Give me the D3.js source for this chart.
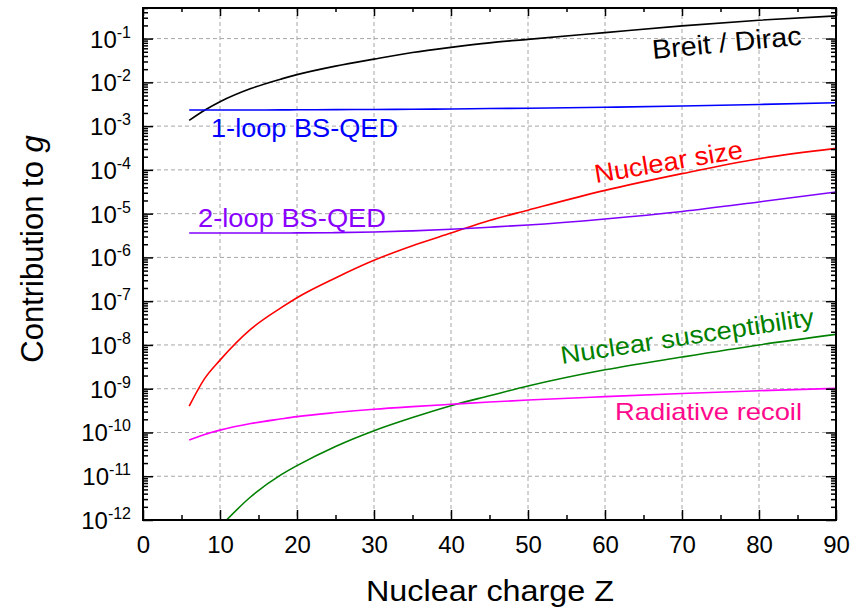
<!DOCTYPE html>
<html>
<head>
<meta charset="utf-8">
<script src="https://cdn.jsdelivr.net/npm/d3@7"></script>
<style>
  body { margin: 0; background: #fff; }
  text { font-family: "Liberation Sans", Arial, sans-serif; }
</style>
</head>
<body>
<div id="chart"></div>
<script>
var width = 864,
    height = 610;

var zValues = [6, 8, 10, 14, 18, 20, 25, 30, 35, 40, 45, 50, 60, 70, 80, 90];

var breitDirac   = [1.35e-3, 2.3e-3, 3.6e-3, 7.2e-3, 1.2e-2, 1.5e-2, 2.35e-2, 3.4e-2, 4.8e-2, 6.3e-2, 8.0e-2, 9.6e-2, 0.137, 0.195, 0.263, 0.33];
var oneLoop      = [2.33e-3, 2.33e-3, 2.33e-3, 2.34e-3, 2.35e-3, 2.36e-3, 2.38e-3, 2.4e-3, 2.43e-3, 2.47e-3, 2.52e-3, 2.57e-3, 2.7e-3, 2.88e-3, 3.12e-3, 3.42e-3];
var nuclearSize  = [4.0e-10, 1.7e-9, 4.5e-9, 2.3e-8, 7.2e-8, 1.2e-7, 3.4e-7, 8.6e-7, 1.85e-6, 3.6e-6, 7.0e-6, 1.2e-5, 3.4e-5, 8.2e-5, 1.8e-4, 3.1e-4];
var twoLoop      = [3.6e-6, 3.6e-6, 3.6e-6, 3.6e-6, 3.62e-6, 3.63e-6, 3.68e-6, 3.8e-6, 4.05e-6, 4.4e-6, 4.9e-6, 5.5e-6, 7.55e-6, 1.12e-5, 1.85e-5, 3.13e-5];
var susceptibility = [null, null, 7e-13, 3.4e-12, 1.1e-11, 1.75e-11, 4.8e-11, 1.1e-10, 2.2e-10, 4.1e-10, 6.9e-10, 1.15e-9, 2.7e-9, 5.3e-9, 1.0e-8, 1.74e-8];
var radRecoil    = [6.7e-11, 9e-11, 1.13e-10, 1.6e-10, 2.05e-10, 2.3e-10, 2.85e-10, 3.4e-10, 3.9e-10, 4.4e-10, 4.95e-10, 5.5e-10, 6.6e-10, 7.8e-10, 9.0e-10, 1.02e-9];

var xTicks = [0, 10, 20, 30, 40, 50, 60, 70, 80, 90];
var xMinor = [5, 15, 25, 35, 45, 55, 65, 75, 85];
var exponents = [-12, -11, -10, -9, -8, -7, -6, -5, -4, -3, -2, -1];

var series = [
  {name: "Breit / Dirac", values: breitDirac, color: "#000000"},
  {name: "1-loop BS-QED", values: oneLoop, color: "#0000ff"},
  {name: "Nuclear size", values: nuclearSize, color: "#ff0000"},
  {name: "2-loop BS-QED", values: twoLoop, color: "#8000ff"},
  {name: "Nuclear susceptibility", values: susceptibility, color: "#008000"},
  {name: "Radiative recoil", values: radRecoil, color: "#ff00ff"}
];

// curve labels: placement on the page
var labels = [
  {text: "Breit / Dirac", x: 653, y: 59, rot: -5.5, size: 27, len: 150, color: "#000000"},
  {text: "1-loop BS-QED", x: 211, y: 137, rot: 0, size: 26, len: 187, color: "#0000ff"},
  {text: "Nuclear size", x: 596, y: 183, rot: -9.6, size: 26, len: 150, color: "#ff0000"},
  {text: "2-loop BS-QED", x: 198, y: 227, rot: 0, size: 26, len: 188, color: "#8a00ff"},
  {text: "Nuclear susceptibility", x: 562, y: 364, rot: -8.7, size: 25, len: 256, color: "#008000"},
  {text: "Radiative recoil", x: 615, y: 420, rot: 0, size: 24, len: 187, color: "#ff0a8c"}
];

var plotL = 143, plotR = 836, plotT = 8, plotB = 520;

var x = d3.scaleLinear().domain([0, 90]).range([plotL, plotR]);
var y = d3.scaleLog().domain([1e-12, 0.5]).range([plotB, plotT]);

var decades = exponents.map(function(e) { return Math.pow(10, e); });
var yMinor = [];
exponents.forEach(function(e) {
  for (var k = 2; k <= 9; k++) {
    var v = k * Math.pow(10, e);
    if (v <= 0.5) yMinor.push(v);
  }
});

var svg = d3.select("#chart").append("svg")
    .attr("width", width)
    .attr("height", height);

svg.append("rect").attr("width", width).attr("height", height).attr("fill", "#fff");

svg.append("defs").append("clipPath").attr("id", "plot")
  .append("rect")
    .attr("x", plotL).attr("y", plotT)
    .attr("width", plotR - plotL).attr("height", plotB - plotT);

// grid
var grid = svg.append("g")
    .attr("stroke", "#a6a6a6")
    .attr("stroke-width", 1)
    .attr("stroke-dasharray", "4,3");

grid.selectAll("line.v")
    .data(xTicks.slice(1, -1))
  .enter().append("line")
    .attr("x1", function(d) { return x(d); })
    .attr("x2", function(d) { return x(d); })
    .attr("y1", plotT).attr("y2", plotB);

grid.selectAll("line.h")
    .data(decades.slice(1))
  .enter().append("line")
    .attr("x1", plotL).attr("x2", plotR)
    .attr("y1", function(d) { return y(d); })
    .attr("y2", function(d) { return y(d); });

// curves
var line = d3.line()
    .defined(function(d) { return d.v != null; })
    .x(function(d) { return x(d.z); })
    .y(function(d) { return y(d.v); })
    .curve(d3.curveMonotoneX);

svg.append("g").attr("clip-path", "url(#plot)")
  .selectAll("path")
    .data(series)
  .enter().append("path")
    .attr("fill", "none")
    .attr("stroke", function(d) { return d.color; })
    .attr("stroke-width", 1.6)
    .attr("d", function(d) {
      return line(zValues.map(function(z, i) { return {z: z, v: d.values[i]}; }));
    });

// ticks on all four sides, pointing inward
function ticks(axis, tx, ty) {
  var g = svg.append("g")
      .attr("transform", "translate(" + tx + "," + ty + ")")
      .call(axis);
  g.select(".domain").remove();
  g.selectAll("line").attr("stroke", "#000").attr("stroke-width", 1.5);
  return g;
}

ticks(d3.axisLeft(y).tickValues(decades).tickSize(-10).tickFormat(""), plotL, 0);
ticks(d3.axisLeft(y).tickValues(yMinor).tickSize(-5).tickFormat(""), plotL, 0);
ticks(d3.axisRight(y).tickValues(decades).tickSize(-10).tickFormat(""), plotR, 0);
ticks(d3.axisRight(y).tickValues(yMinor).tickSize(-5).tickFormat(""), plotR, 0);
ticks(d3.axisTop(x).tickValues(xTicks).tickSize(-8).tickFormat(""), 0, plotT);
ticks(d3.axisTop(x).tickValues(xMinor).tickSize(-4).tickFormat(""), 0, plotT);
ticks(d3.axisBottom(x).tickValues(xMinor).tickSize(-5).tickFormat(""), 0, plotB);

var xAxis = ticks(d3.axisBottom(x).tickValues(xTicks).tickSize(-10).tickPadding(16), 0, plotB);
xAxis.selectAll("text")
    .attr("fill", "#000")
    .style("font-size", "24px")
    .style("font-family", "'Liberation Sans', Arial, sans-serif");

svg.append("rect")
    .attr("x", plotL).attr("y", plotT)
    .attr("width", plotR - plotL).attr("height", plotB - plotT)
    .attr("fill", "none")
    .attr("stroke", "#000")
    .attr("stroke-width", 2);

// y tick labels 10^n
var yLab = svg.append("g").selectAll("text")
    .data(exponents)
  .enter().append("text")
    .attr("x", 131)
    .attr("y", function(d) { return y(Math.pow(10, d)) + 9; })
    .attr("text-anchor", "end")
    .attr("fill", "#000")
    .style("font-size", "24px");
yLab.append("tspan").text("10");
yLab.append("tspan")
    .attr("dy", -10)
    .style("font-size", "16px")
    .text(function(d) { return "-" + (-d); });

// axis titles
svg.append("text")
    .attr("x", 490)
    .attr("y", 601)
    .attr("text-anchor", "middle")
    .attr("textLength", 248)
    .attr("lengthAdjust", "spacingAndGlyphs")
    .style("font-size", "30px")
    .text("Nuclear charge Z");

var yTitle = svg.append("text")
    .attr("transform", "translate(43,249) rotate(-90)")
    .attr("text-anchor", "middle")
    .style("font-size", "31px");
yTitle.append("tspan").text("Contribution to ");
yTitle.append("tspan").style("font-style", "italic").text("g");

// curve labels
svg.append("g").selectAll("text")
    .data(labels)
  .enter().append("text")
    .attr("transform", function(d) { return "translate(" + d.x + "," + d.y + ") rotate(" + d.rot + ")"; })
    .attr("textLength", function(d) { return d.len; })
    .attr("lengthAdjust", "spacingAndGlyphs")
    .attr("fill", function(d) { return d.color; })
    .style("font-size", function(d) { return d.size + "px"; })
    .text(function(d) { return d.text; });
</script>
</body>
</html>
